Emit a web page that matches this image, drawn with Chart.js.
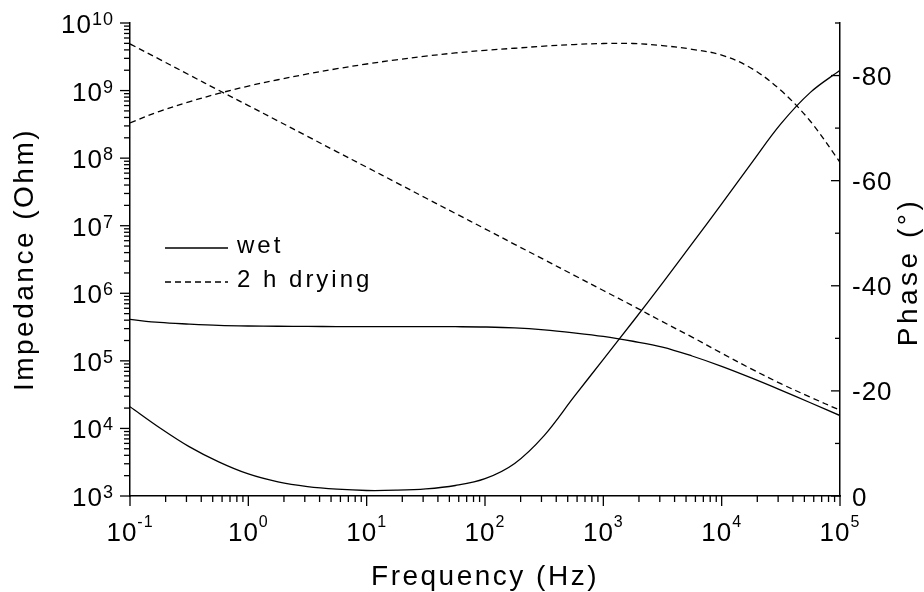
<!DOCTYPE html>
<html><head><meta charset="utf-8">
<script src="https://cdn.jsdelivr.net/npm/chart.js@4.4.1/dist/chart.umd.min.js"></script>
<style>html,body{margin:0;padding:0;background:#fff;} #wrap{width:924px;height:592px;}</style>
</head><body><div id="wrap"><canvas id="c" width="924" height="592"></canvas></div>
<script>
// ---- data ----
const frequencyHz = [0.1, 0.178, 0.316, 0.562, 1, 1.78, 3.16, 5.62, 10, 17.8, 31.6, 56.2, 100, 178, 316, 562, 1000, 1780, 3160, 5620, 10000, 17800, 31600, 56200, 100000];
const wetImpedance = [4.1e5, 3.7e5, 3.5e5, 3.35e5, 3.28e5, 3.25e5, 3.23e5, 3.22e5, 3.22e5, 3.22e5, 3.21e5, 3.2e5, 3.17e5, 3.08e5, 2.88e5, 2.6e5, 2.3e5, 1.95e5, 1.6e5, 1.18e5, 8.3e4, 5.6e4, 3.7e4, 2.4e4, 1.55e4];
const wetPhase = [-17, -13, -9.4, -6.5, -4.2, -2.7, -1.8, -1.3, -1.05, -1.1, -1.35, -2.0, -3.3, -6.2, -11.5, -18.8, -26, -33.2, -40.5, -48, -55.6, -63.3, -70.8, -76.8, -81];
const dryImpedance = [4.9e9, 2.9e9, 1.71e9, 1.01e9, 6.0e8, 3.55e8, 2.1e8, 1.24e8, 7.35e7, 4.35e7, 2.57e7, 1.52e7, 9.0e6, 5.3e6, 3.15e6, 1.86e6, 1.1e6, 6.5e5, 3.8e5, 2.25e5, 1.3e5, 7.6e4, 4.6e4, 2.9e4, 1.86e4];
const dryPhase = [-71, -73.2, -75, -76.6, -78, -79.2, -80.3, -81.3, -82.2, -83, -83.7, -84.3, -84.8, -85.2, -85.6, -85.9, -86.1, -86.1, -85.7, -85, -83.9, -81.4, -77.2, -71.3, -63.5];

const freqTickExponents = [-1, 0, 1, 2, 3, 4, 5];
const impedanceTickExponents = [3, 4, 5, 6, 7, 8, 9, 10];
const phaseTicks = [0, -20, -40, -60, -80];
const phaseMinorTicks = [-10, -30, -50, -70, -90];
const seriesLabels = ['wet', '2 h drying'];
const xTitle = 'Frequency (Hz)';
const yTitle = 'Impedance (Ohm)';
const y1Title = 'Phase (°)';

const FONT = '"Liberation Sans", Arial, sans-serif';
const DASH = [6, 4];

function pts(ys) { return frequencyHz.map((f, i) => ({x: f, y: ys[i]})); }

const decor = {
  id: 'decor',
  afterDraw(chart) {
    const ctx = chart.ctx;
    const xs = chart.scales.x, ys = chart.scales.y, ps = chart.scales.y1;
    const area = chart.chartArea;
    ctx.save();
    ctx.strokeStyle = '#000';
    ctx.fillStyle = '#000';
    ctx.lineWidth = 1.3;
    const seg = (x1, y1, x2, y2) => { ctx.beginPath(); ctx.moveTo(x1, y1); ctx.lineTo(x2, y2); ctx.stroke(); };

    // bottom ticks (outward)
    freqTickExponents.forEach((e, k) => {
      for (let m = 1; m <= 9; m++) {
        if (k === freqTickExponents.length - 1 && m > 1) break;
        const px = xs.getPixelForValue(m * Math.pow(10, e));
        seg(px, area.bottom, px, area.bottom + (m === 1 ? 10 : 6));
      }
    });
    // left ticks (outward)
    impedanceTickExponents.forEach((e, k) => {
      for (let m = 1; m <= 9; m++) {
        if (k === impedanceTickExponents.length - 1 && m > 1) break;
        const py = ys.getPixelForValue(m * Math.pow(10, e));
        seg(area.left, py, area.left - (m === 1 ? 10 : 6), py);
      }
    });
    // right ticks (inward)
    phaseTicks.forEach(v => { const py = ps.getPixelForValue(v); seg(area.right, py, area.right - 9, py); });
    phaseMinorTicks.forEach(v => { const py = ps.getPixelForValue(v); seg(area.right, py, area.right - 5, py); });

    ctx.letterSpacing = '1px';
    // bottom labels
    const bBase = 26, bExp = 16;
    freqTickExponents.forEach(e => {
      const px = xs.getPixelForValue(Math.pow(10, e));
      ctx.font = bBase + 'px ' + FONT;
      const wb = ctx.measureText('10').width;
      ctx.font = bExp + 'px ' + FONT;
      const es = String(e);
      const we = ctx.measureText(es).width;
      const x0 = px - (wb + we) / 2;
      ctx.textAlign = 'left'; ctx.textBaseline = 'alphabetic';
      ctx.font = bBase + 'px ' + FONT;
      ctx.fillText('10', x0, area.bottom + 45);
      ctx.font = bExp + 'px ' + FONT;
      ctx.fillText(es, x0 + wb, area.bottom + 31);
    });
    // left labels
    const lBase = 26, lExp = 18;
    impedanceTickExponents.forEach(e => {
      const py = ys.getPixelForValue(Math.pow(10, e));
      ctx.font = lExp + 'px ' + FONT;
      const es = String(e);
      const we = ctx.measureText(es).width;
      ctx.font = lBase + 'px ' + FONT;
      const wb = ctx.measureText('10').width;
      const xr = area.left - 16;
      ctx.textAlign = 'left'; ctx.textBaseline = 'alphabetic';
      ctx.fillText('10', xr - we - wb, py + 10);
      ctx.font = lExp + 'px ' + FONT;
      ctx.fillText(es, xr - we, py + 2);
    });
    // right labels
    ctx.font = '26px ' + FONT;
    ctx.textAlign = 'left'; ctx.textBaseline = 'alphabetic';
    phaseTicks.forEach(v => {
      const py = ps.getPixelForValue(v);
      ctx.fillText(String(v), area.right + 12, py + 9.5);
    });

    // axis titles
    ctx.letterSpacing = '2.5px';
    ctx.font = '28px ' + FONT;
    ctx.textAlign = 'center'; ctx.textBaseline = 'alphabetic';
    ctx.fillText(xTitle, (area.left + area.right) / 2, 585);
    ctx.save(); ctx.translate(33, (area.top + area.bottom) / 2); ctx.rotate(-Math.PI / 2);
    ctx.fillText(yTitle, 0, 0); ctx.restore();
    ctx.letterSpacing = '3.5px';
    ctx.save(); ctx.translate(917, 272); ctx.rotate(-Math.PI / 2);
    ctx.fillText(y1Title, 0, 0); ctx.restore();

    // legend
    ctx.letterSpacing = '3px';
    ctx.font = '24px ' + FONT;
    ctx.textAlign = 'left';
    const legY = [248, 282];
    const styles = [[], DASH];
    seriesLabels.forEach((lab, i) => {
      ctx.setLineDash(styles[i]);
      ctx.lineWidth = 1.3;
      seg(165, legY[i], 228, legY[i]);
      ctx.setLineDash([]);
      ctx.fillText(lab, 237, legY[i] + 5);
    });
    ctx.restore();
  }
};

const common = {pointRadius: 0, borderColor: '#000', borderWidth: 1.3, fill: false, tension: 0.35};

new Chart(document.getElementById('c'), {
  type: 'line',
  data: {
    datasets: [
      Object.assign({label: seriesLabels[0] + ' |Z|', data: pts(wetImpedance), yAxisID: 'y'}, common),
      Object.assign({label: seriesLabels[0] + ' phase', data: pts(wetPhase), yAxisID: 'y1'}, common),
      Object.assign({label: seriesLabels[1] + ' |Z|', data: pts(dryImpedance), yAxisID: 'y', borderDash: DASH}, common),
      Object.assign({label: seriesLabels[1] + ' phase', data: pts(dryPhase), yAxisID: 'y1', borderDash: DASH}, common)
    ]
  },
  options: {
    responsive: false,
    animation: false,
    devicePixelRatio: 1,
    layout: {padding: {top: 23, left: 0, right: 0, bottom: 0}},
    plugins: {legend: {display: false}, tooltip: {enabled: false}, title: {display: false}},
    scales: {
      x: {type: 'logarithmic', min: 0.1, max: 1e5, position: 'bottom',
          ticks: {display: false}, grid: {display: false},
          border: {display: true, color: '#000', width: 1.5},
          afterFit: s => { s.height = 96; }},
      y: {type: 'logarithmic', min: 1e3, max: 1e10, position: 'left',
          ticks: {display: false}, grid: {display: false},
          border: {display: true, color: '#000', width: 1.5},
          afterFit: s => { s.width = 130; }},
      y1: {type: 'linear', min: -90, max: 0, reverse: true, position: 'right',
          ticks: {display: false}, grid: {display: false},
          border: {display: true, color: '#000', width: 1.5},
          afterFit: s => { s.width = 84; }}
    }
  },
  plugins: [decor]
});
</script>
</body></html>
